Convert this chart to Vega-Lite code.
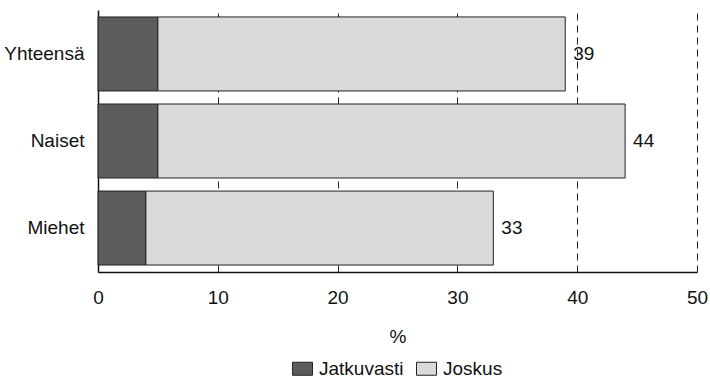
{
  "$schema": "https://vega.github.io/schema/vega-lite/v6.json",
  "width": 599,
  "height": 262,
  "autosize": {"type": "none"},
  "padding": {"left": 98, "top": 10, "right": 13, "bottom": 110},
  "background": "white",
  "config": {
    "font": "Liberation Sans",
    "view": {"stroke": null},
    "axis": {"labelFont": "Liberation Sans", "titleFont": "Liberation Sans", "labelColor": "#111", "titleColor": "#111"},
    "legend": {"labelFont": "Liberation Sans"}
  },
  "data": {
    "values": [
      {"group": "Yhteensä", "type": "Jatkuvasti", "value": 5},
      {"group": "Yhteensä", "type": "Joskus", "value": 34},
      {"group": "Naiset", "type": "Jatkuvasti", "value": 5},
      {"group": "Naiset", "type": "Joskus", "value": 39},
      {"group": "Miehet", "type": "Jatkuvasti", "value": 4},
      {"group": "Miehet", "type": "Joskus", "value": 29}
    ]
  },
  "encoding": {
    "y": {
      "field": "group",
      "type": "nominal",
      "sort": ["Yhteensä", "Naiset", "Miehet"],
      "scale": {"paddingInner": 0.15, "paddingOuter": 0.08},
      "axis": {"title": null, "ticks": false, "labelFontSize": 19, "labelPadding": 14, "domainColor": "#111", "domainWidth": 1.5}
    }
  },
  "layer": [
    {
      "mark": {"type": "bar", "stroke": "#222", "strokeWidth": 1},
      "encoding": {
        "x": {
          "field": "value",
          "type": "quantitative",
          "stack": "zero",
          "scale": {"domain": [0, 50], "nice": false},
          "axis": {
            "values": [0, 10, 20, 30, 40, 50],
            "title": "%",
            "titleFontSize": 19,
            "titleFontWeight": "normal",
            "titlePadding": 20,
            "labelFontSize": 19,
            "labelPadding": 16,
            "labelFlush": false,
            "ticks": false,
            "grid": true,
            "gridColor": "#222",
            "gridDash": [7, 5],
            "gridWidth": 1,
            "domainColor": "#111",
            "domainWidth": 1.5
          }
        },
        "color": {
          "field": "type",
          "type": "nominal",
          "scale": {"domain": ["Jatkuvasti", "Joskus"], "range": ["#5c5c5c", "#dadada"]},
          "legend": {
            "title": null,
            "orient": "none",
            "direction": "horizontal",
            "legendX": 194,
            "legendY": 348,
            "symbolType": "M-1,-0.65H1V0.65H-1Z",
            "symbolSize": 400,
            "symbolStrokeColor": "#222",
            "symbolStrokeWidth": 1,
            "labelFontSize": 19,
            "labelColor": "#111",
            "labelOffset": 6,
            "columnPadding": 10
          }
        },
        "order": {"field": "type"}
      }
    },
    {
      "mark": {"type": "text", "align": "left", "dx": 8, "fontSize": 19, "color": "#111"},
      "encoding": {
        "x": {"aggregate": "sum", "field": "value", "type": "quantitative"},
        "text": {"aggregate": "sum", "field": "value", "type": "quantitative"}
      }
    }
  ]
}
